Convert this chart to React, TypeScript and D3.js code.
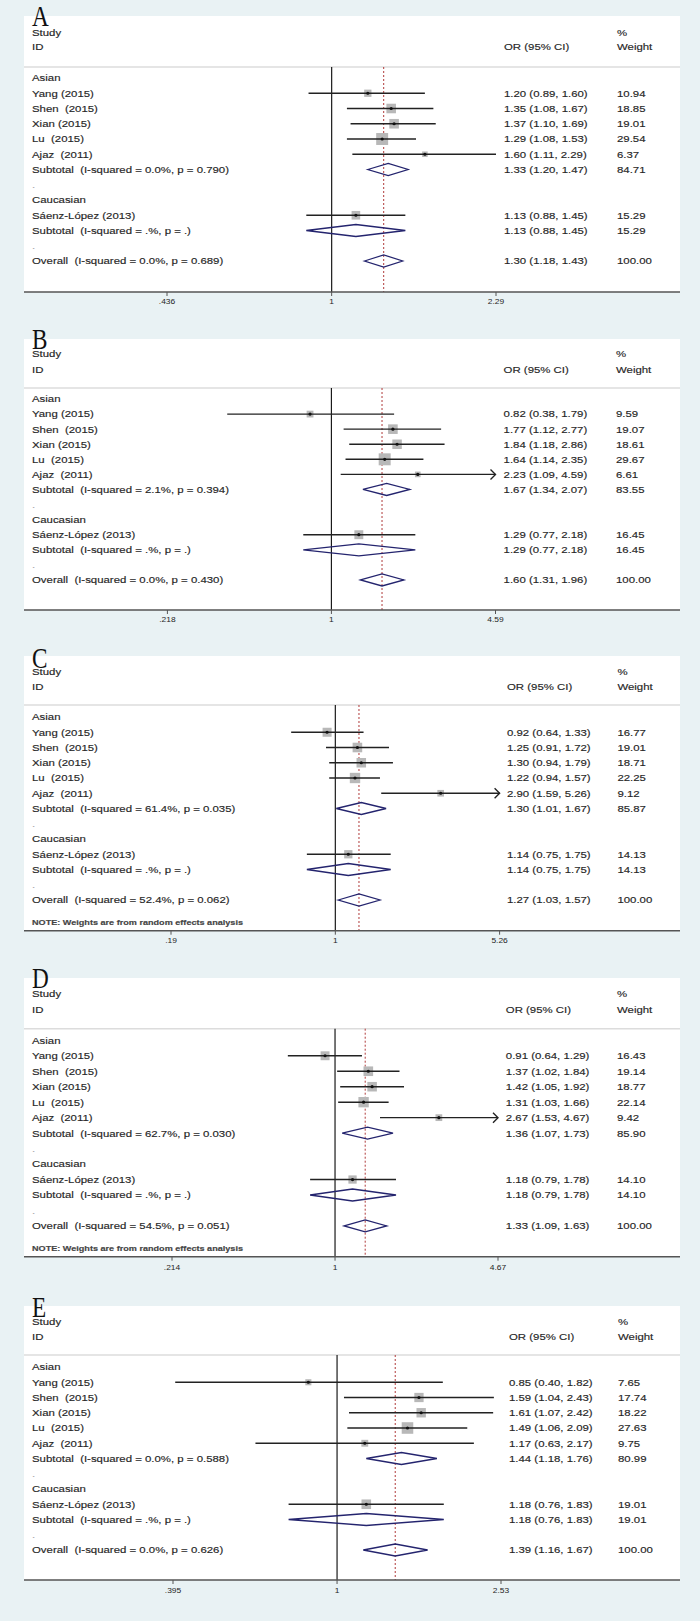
import React from "react";
import * as d3 from "d3";

// study labels (Stata keeps the double spaces)
const studyNames = ["Yang (2015)", "Shen  (2015)", "Xian (2015)", "Lu  (2015)", "Ajaz  (2011)", "Sáenz-López (2013)"];
const panelLetters = ["A", "B", "C", "D", "E"];

// per panel, per study (last one is the Caucasian study)
const orValues = [
  [1.20, 1.35, 1.37, 1.29, 1.60, 1.13],
  [0.82, 1.77, 1.84, 1.64, 2.23, 1.29],
  [0.92, 1.25, 1.30, 1.22, 2.90, 1.14],
  [0.91, 1.37, 1.42, 1.31, 2.67, 1.18],
  [0.85, 1.59, 1.61, 1.49, 1.17, 1.18],
];
const ciLower = [
  [0.89, 1.08, 1.10, 1.08, 1.11, 0.88],
  [0.38, 1.12, 1.18, 1.14, 1.09, 0.77],
  [0.64, 0.91, 0.94, 0.94, 1.59, 0.75],
  [0.64, 1.02, 1.05, 1.03, 1.53, 0.79],
  [0.40, 1.04, 1.07, 1.06, 0.63, 0.76],
];
const ciUpper = [
  [1.60, 1.67, 1.69, 1.53, 2.29, 1.45],
  [1.79, 2.77, 2.86, 2.35, 4.59, 2.18],
  [1.33, 1.72, 1.79, 1.57, 5.26, 1.75],
  [1.29, 1.84, 1.92, 1.66, 4.67, 1.78],
  [1.82, 2.43, 2.42, 2.09, 2.17, 1.83],
];
const weights = [
  [10.94, 18.85, 19.01, 29.54, 6.37, 15.29],
  [9.59, 19.07, 18.61, 29.67, 6.61, 16.45],
  [16.77, 19.01, 18.71, 22.25, 9.12, 14.13],
  [16.43, 19.14, 18.77, 22.14, 9.42, 14.10],
  [7.65, 17.74, 18.22, 27.63, 9.75, 19.01],
];
// CI runs past the axis (Stata draws an arrow)
const truncatedCI = [
  [false, false, false, false, false, false],
  [false, false, false, false, true, false],
  [false, false, false, false, true, false],
  [false, false, false, false, true, false],
  [false, false, false, false, false, false],
];

// Asian subtotal
const asianOR = [1.33, 1.67, 1.30, 1.36, 1.44];
const asianLo = [1.20, 1.34, 1.01, 1.07, 1.18];
const asianHi = [1.47, 2.07, 1.67, 1.73, 1.76];
const asianW = [84.71, 83.55, 85.87, 85.90, 80.99];
const asianI2 = ["0.0%", "2.1%", "61.4%", "62.7%", "0.0%"];
const asianP = ["0.790", "0.394", "0.035", "0.030", "0.588"];

// overall
const overallOR = [1.30, 1.60, 1.27, 1.33, 1.39];
const overallLo = [1.18, 1.31, 1.03, 1.09, 1.16];
const overallHi = [1.43, 1.96, 1.57, 1.63, 1.67];
const overallI2 = ["0.0%", "0.0%", "52.4%", "54.5%", "0.0%"];
const overallP = ["0.689", "0.430", "0.062", "0.051", "0.626"];

const randomEffects = [false, false, true, true, false];

const tickValues = [
  [0.436, 1, 2.29],
  [0.218, 1, 4.59],
  [0.19, 1, 5.26],
  [0.214, 1, 4.67],
  [0.395, 1, 2.53],
];
const tickLabels = [
  [".436", "1", "2.29"],
  [".218", "1", "4.59"],
  [".19", "1", "5.26"],
  [".214", "1", "4.67"],
  [".395", "1", "2.53"],
];

// where each pasted panel sits on the page
const layout = [
  { top: 16, letterY: 26, study: 33, id: 47, sep: 67, first: 78, step: 15.25, axis: 292, tick: 302, note: 0, x0: 167, x1: 496, orX: 504, wX: 617 },
  { top: 339, letterY: 349, study: 354, id: 370, sep: 388, first: 399, step: 15.08, axis: 610, tick: 620, note: 0, x0: 167.4, x1: 495.5, orX: 503.6, wX: 616 },
  { top: 656, letterY: 668, study: 671.7, id: 686.7, sep: 705, first: 717, step: 15.25, axis: 930.7, tick: 940.7, note: 922.7, x0: 171, x1: 499.6, orX: 507, wX: 617.4 },
  { top: 978, letterY: 988, study: 994, id: 1009.7, sep: 1028.7, first: 1040.3, step: 15.47, axis: 1256.7, tick: 1267.3, note: 1248.7, x0: 172, x1: 498, orX: 505.8, wX: 617 },
  { top: 1306, letterY: 1317, study: 1321.7, id: 1336.7, sep: 1355, first: 1367, step: 15.25, axis: 1580, tick: 1591, note: 0, x0: 173, x1: 501, orX: 509, wX: 618 },
];

const BG = "#e9f2f4";
const INK = "#262626";
const NAVY = "#24246e";
const FONT = "'Liberation Sans', Arial, sans-serif";

const Txt = ({ x, y, children, size = 9.5, sx = 1.2, fill = INK, weight = 400 }: any) => (
  <text
    transform={`translate(${x},${y}) scale(${sx},1)`}
    fontSize={size}
    fontFamily={FONT}
    fill={fill}
    fontWeight={weight}
    stroke={fill}
    strokeWidth={0.15}
    style={{ whiteSpace: "pre" }}
  >
    {children}
  </text>
);

const fmt = (v: number) => v.toFixed(2);
const ciText = (o: number, l: number, h: number) => `${fmt(o)} (${fmt(l)}, ${fmt(h)})`;

function Panel({ p }: { p: number }) {
  const L = layout[p];
  const ticks = tickValues[p];
  const x = d3.scaleLog().domain([ticks[0], ticks[2]]).range([L.x0, L.x1]);
  const rowY = (r: number) => L.first + r * L.step;
  const base = (y: number) => y + 3.4;
  const left = 24, right = 680, tx = 32;

  const diamond = (o: number, l: number, h: number, y: number) => {
    const hh = 6;
    return `M${x(l)},${y}L${x(o)},${y - hh}L${x(h)},${y}L${x(o)},${y + hh}Z`;
  };

  const studyRow = (s: number, r: number) => {
    const y = rowY(r);
    const o = orValues[p][s], lo = ciLower[p][s], hi = ciUpper[p][s], w = weights[p][s];
    const side = 2.2 * Math.sqrt(w);
    const arrow = truncatedCI[p][s];
    const xe = x(Math.min(hi, ticks[2]));
    return (
      <g key={"s" + r}>
        <rect x={x(o) - side / 2} y={y - side / 2} width={side} height={side} fill="#b8b8b8" />
        <line x1={x(lo)} x2={xe} y1={y} y2={y} stroke="#222" strokeWidth={1.4} />
        {arrow && (
          <path d={`M${xe - 5},${y - 5}L${xe},${y}L${xe - 5},${y + 5}`} fill="none" stroke="#222" strokeWidth={1.4} />
        )}
        <circle cx={x(o)} cy={y} r={1.6} fill="#111" />
        <Txt x={tx} y={base(y)}>{studyNames[s]}</Txt>
        <Txt x={L.orX} y={base(y)}>{ciText(o, lo, hi)}</Txt>
        <Txt x={L.wX} y={base(y)}>{fmt(w)}</Txt>
      </g>
    );
  };

  const cauc = 5;
  return (
    <g>
      <rect x={left} y={L.top} width={right - left} height={L.axis - L.top} fill="#ffffff" />
      <text
        transform={`translate(32,${L.letterY}) scale(0.8,1)`}
        fontSize={29}
        fontFamily="'Liberation Serif', 'Times New Roman', serif"
        fill="#111"
      >
        {panelLetters[p]}
      </text>

      <Txt x={tx} y={base(L.study)}>Study</Txt>
      <Txt x={tx} y={base(L.id)}>ID</Txt>
      <Txt x={L.orX} y={base(L.id)}>OR (95% CI)</Txt>
      <Txt x={L.wX} y={base(L.study)}>%</Txt>
      <Txt x={L.wX} y={base(L.id)}>Weight</Txt>
      <line x1={left} x2={right} y1={L.sep} y2={L.sep} stroke="#dcdcdc" strokeWidth={1.5} />

      {/* null line and pooled estimate */}
      <line x1={x(1)} x2={x(1)} y1={L.sep} y2={L.axis} stroke="#1a1a1a" strokeWidth={1.2} />
      <line x1={x(overallOR[p])} x2={x(overallOR[p])} y1={L.sep} y2={L.axis} stroke="#b03a3a" strokeWidth={1} strokeDasharray="2,2" />

      <Txt x={tx} y={base(rowY(0))}>Asian</Txt>
      {[0, 1, 2, 3, 4].map((s) => studyRow(s, s + 1))}

      <path d={diamond(asianOR[p], asianLo[p], asianHi[p], rowY(6))} fill="none" stroke={NAVY} strokeWidth={1.3} />
      <Txt x={tx} y={base(rowY(6))}>{`Subtotal  (I-squared = ${asianI2[p]}, p = ${asianP[p]})`}</Txt>
      <Txt x={L.orX} y={base(rowY(6))}>{ciText(asianOR[p], asianLo[p], asianHi[p])}</Txt>
      <Txt x={L.wX} y={base(rowY(6))}>{fmt(asianW[p])}</Txt>
      <Txt x={tx} y={base(rowY(7))} fill="#aaa">.</Txt>

      <Txt x={tx} y={base(rowY(8))}>Caucasian</Txt>
      {studyRow(cauc, 9)}
      <path d={diamond(orValues[p][cauc], ciLower[p][cauc], ciUpper[p][cauc], rowY(10))} fill="none" stroke={NAVY} strokeWidth={1.3} />
      <Txt x={tx} y={base(rowY(10))}>{"Subtotal  (I-squared = .%, p = .)"}</Txt>
      <Txt x={L.orX} y={base(rowY(10))}>{ciText(orValues[p][cauc], ciLower[p][cauc], ciUpper[p][cauc])}</Txt>
      <Txt x={L.wX} y={base(rowY(10))}>{fmt(weights[p][cauc])}</Txt>
      <Txt x={tx} y={base(rowY(11))} fill="#aaa">.</Txt>

      <path d={diamond(overallOR[p], overallLo[p], overallHi[p], rowY(12))} fill="none" stroke={NAVY} strokeWidth={1.3} />
      <Txt x={tx} y={base(rowY(12))}>{`Overall  (I-squared = ${overallI2[p]}, p = ${overallP[p]})`}</Txt>
      <Txt x={L.orX} y={base(rowY(12))}>{ciText(overallOR[p], overallLo[p], overallHi[p])}</Txt>
      <Txt x={L.wX} y={base(rowY(12))}>{fmt(100)}</Txt>

      {randomEffects[p] && (
        <Txt x={tx} y={L.note + 2.5} size={7} sx={1.3} weight={700} fill="#444">
          NOTE: Weights are from random effects analysis
        </Txt>
      )}

      {/* axis */}
      <line x1={left} x2={right} y1={L.axis} y2={L.axis} stroke="#555" strokeWidth={1.5} />
      {ticks.map((t, k) => (
        <g key={"t" + k}>
          <line x1={x(t)} x2={x(t)} y1={L.axis} y2={L.axis + 4} stroke="#555" strokeWidth={1} />
          <text
            transform={`translate(${x(t)},${L.tick + 2.4}) scale(1.3,1)`}
            fontSize={6.5}
            fontFamily={FONT}
            fill={INK}
            textAnchor="middle"
          >
            {tickLabels[p][k]}
          </text>
        </g>
      ))}
    </g>
  );
}

export default function App() {
  return (
    <svg
      width={700}
      height={1621}
      viewBox="0 0 700 1621"
      style={{ position: "absolute", left: 0, top: 0, display: "block" }}
    >
      <rect x={0} y={0} width={700} height={1621} fill={BG} />
      {panelLetters.map((_, p) => (
        <Panel key={p} p={p} />
      ))}
    </svg>
  );
}
